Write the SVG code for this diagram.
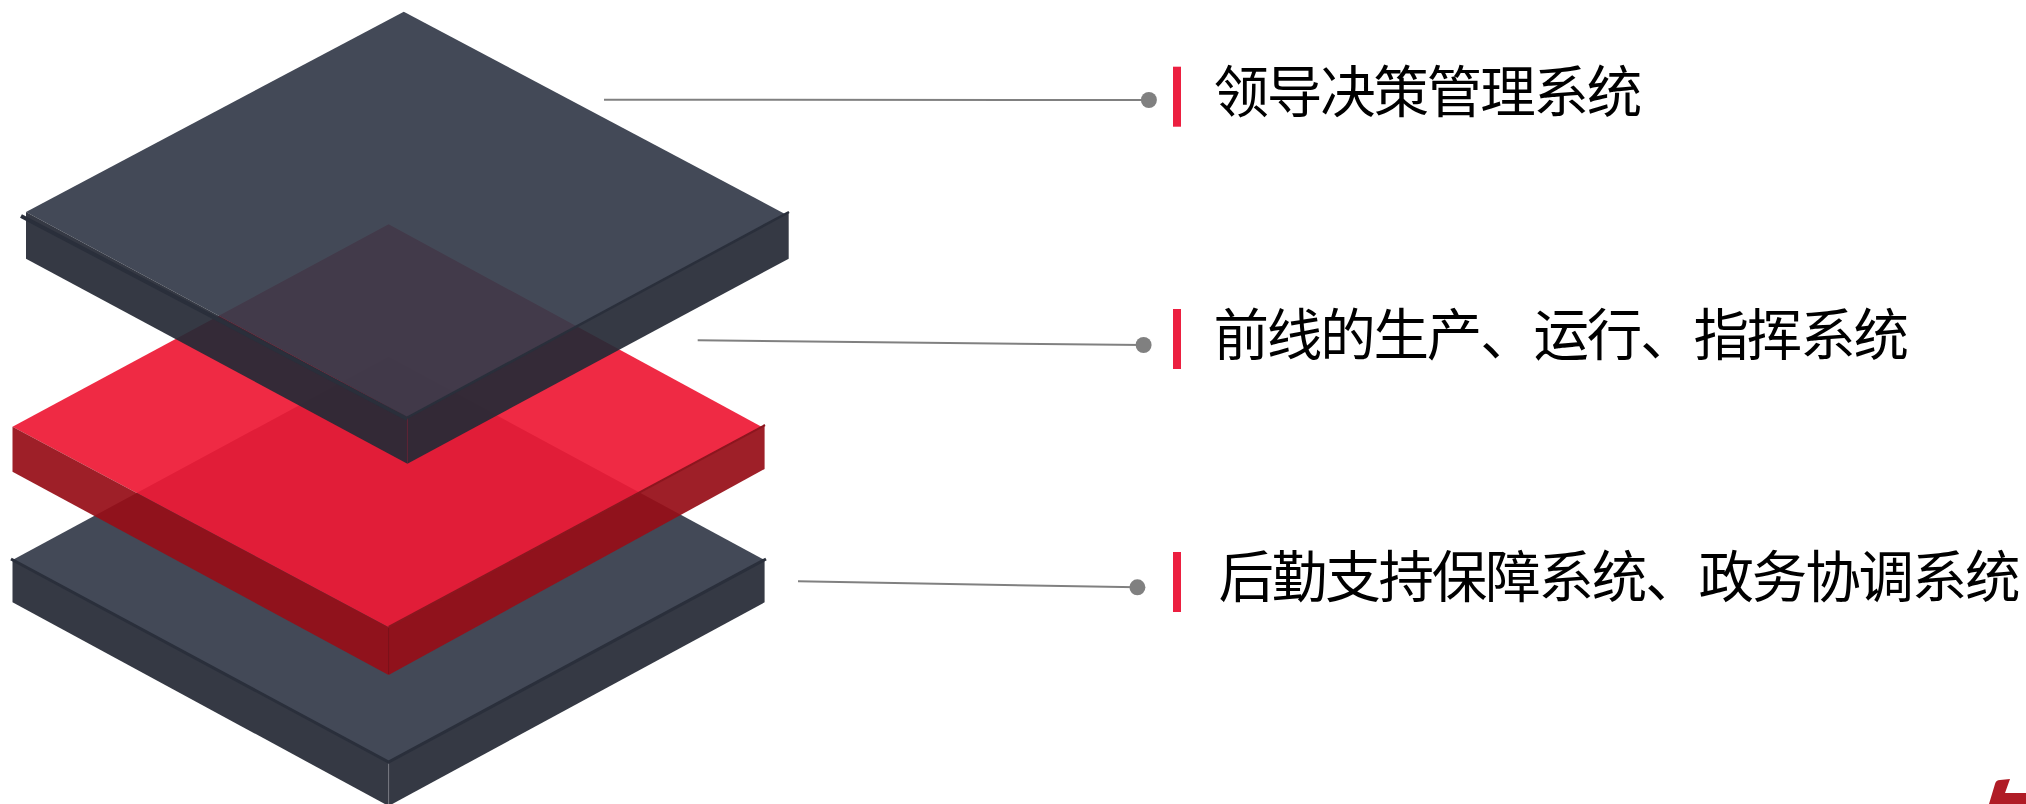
<svg xmlns="http://www.w3.org/2000/svg" width="2026" height="804" viewBox="0 0 2026 804">
<style>
.dk{fill:#353b4a;fill-opacity:.93}
.ds{fill:#262a36;fill-opacity:.93}
.rd{fill:#ee1a36;fill-opacity:.93}
.rs{fill:#970e18;fill-opacity:.93}
.de{stroke:#2a2f3b;fill:none}
.re{stroke:#8c161f;fill:none}
.hair{stroke-width:1;fill:none}
.conn{stroke:#808080;stroke-width:2;fill:none}
.dot{fill:#808080}
.bar{fill:#ec1f40}
.t{font-family:"Noto Sans CJK SC","Noto Sans",sans-serif;font-size:55.5px;letter-spacing:-2.17px;fill:#000}
</style>
<rect width="2026" height="804" fill="#fff"/>
<g id="layer-bottom">
<polygon class="dk" points="388.6,357 764.6,560 388.6,761.7 12.5,560"/>
<polygon class="ds" points="12.5,560 388.6,761.7 388.6,806 12.5,602.3"/>
<polygon class="ds" points="764.6,560 388.6,761.7 388.6,806 764.6,602.3"/>
<polyline class="de" stroke-width="3" points="11,559 388.6,762 766,559"/>
<line class="hair" stroke="#74777f" x1="388.6" y1="764" x2="388.6" y2="804"/>
</g>
<g id="layer-middle">
<polygon class="rd" points="388.6,224.3 762,427 388.6,627.3 12.5,426.7"/>
<polygon class="rs" points="12.5,426.7 388.6,627.3 388.6,675 12.5,471.7"/>
<polygon class="rs" points="764.6,425 388.6,627.3 388.6,675 764.6,469"/>
<polyline class="re" stroke-width="2" points="765,425 388.6,627"/>
<line class="hair" stroke="#7c1019" x1="388.6" y1="628" x2="388.6" y2="674"/>
</g>
<g id="layer-top">
<polygon class="dk" points="403.8,11.7 785,214 407.4,417.3 26,212"/>
<polygon class="ds" points="26,212 407.4,417.3 407.4,463.7 26,258.7"/>
<polygon class="ds" points="788.7,212 407.4,417.3 407.4,463.7 788.7,258.7"/>
<polyline class="de" stroke-width="2.5" points="789,212 407.4,417.5"/>
<polyline class="de" stroke-width="4" points="21,216 407.4,419"/>
<line class="hair" stroke="#5c2436" x1="407.4" y1="420" x2="407.4" y2="463"/>
</g>
<g id="connectors">
<line class="conn" x1="604" y1="99.7" x2="1148.9" y2="100"/>
<line class="conn" x1="697.7" y1="340.3" x2="1143.6" y2="345"/>
<line class="conn" x1="798" y1="581.3" x2="1137.4" y2="587.3"/>
</g>
<g id="label-1">
<circle class="dot" cx="1148.9" cy="100" r="8"/>
<rect class="bar" x="1173" y="66.7" width="8" height="60"/>
<text class="t" x="1213.5" y="112">领导决策管理系统</text>
</g>
<g id="label-2">
<circle class="dot" cx="1143.6" cy="345" r="8"/>
<rect class="bar" x="1173" y="309" width="8" height="60"/>
<text class="t" x="1213.5" y="355">前线的生产、运行、指挥系统</text>
</g>
<g id="label-3">
<circle class="dot" cx="1137.4" cy="587.3" r="8"/>
<rect class="bar" x="1173" y="552" width="8" height="60"/>
<text class="t" x="1218.5" y="597">后勤支持保障系统、政务协调系统</text>
</g>
<path id="logo-fragment" d="M1995,784 Q1996,780 2000,780 L2010,779 L2005,793 L2026,793 L2026,804 L1989,804 Z" fill="#b01c26"/>
</svg>
